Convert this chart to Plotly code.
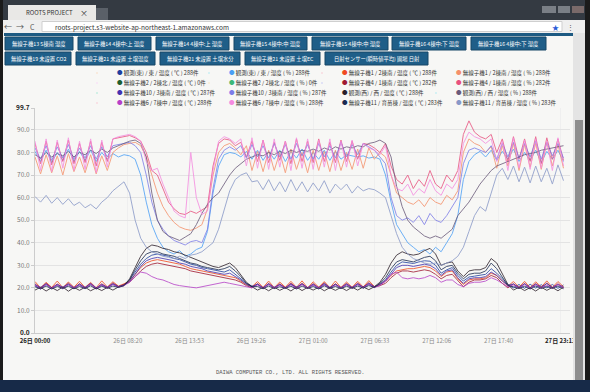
import pandas as pd
import plotly.graph_objects as go

# ---------------- data ----------------
times = pd.date_range("2017-06-26 00:00", periods=96, freq="30min")

series_names = [
    "観測(東) / 東 / 温度 ( ℃ ) 288件",
    "観測(東) / 東 / 湿度 ( % ) 288件",
    "無線子機1 / 2棟南 / 温度 ( ℃ ) 288件",
    "無線子機1 / 2棟南 / 湿度 ( % ) 288件",
    "無線子機2 / 2棟北 / 温度 ( ℃ ) 0件",
    "無線子機2 / 2棟北 / 湿度 ( % ) 0件",
    "無線子機4 / 1棟南 / 温度 ( ℃ ) 282件",
    "無線子機4 / 1棟南 / 湿度 ( % ) 282件",
    "無線子機10 / 3棟南 / 温度 ( ℃ ) 287件",
    "無線子機10 / 3棟南 / 湿度 ( % ) 287件",
    "観測(西) / 西 / 温度 ( ℃ ) 288件",
    "観測(西) / 西 / 湿度 ( % ) 288件",
    "無線子機6 / 7棟中 / 温度 ( ℃ ) 288件",
    "無線子機6 / 7棟中 / 湿度 ( % ) 288件",
    "無線子機11 / 育苗棟 / 温度 ( ℃ ) 283件",
    "無線子機11 / 育苗棟 / 湿度 ( % ) 283件",
]
series_colors = [
    "#1f3f9f", "#4a9ff5", "#f04a20", "#f5906a",
    "#1e5e2e", "#3cb878", "#a01830", "#e8507e",
    "#4432b0", "#7c7ce8", "#2a1e28", "#6a5a7a",
    "#b640c8", "#f58ae0", "#1a2a50", "#8898c8",
]

t_east = [21.0, 19.5, 21.5, 19.8, 21.2, 19.6, 21.4, 19.9,
          21.3, 19.7, 21.5, 19.8, 21.2, 20.0, 21.6, 20.4,
          21.5, 23.5, 27.0, 30.5, 33.0, 34.5, 35.0, 34.5,
          34.0, 33.0, 32.5, 31.5, 30.5, 30.0, 29.0, 28.5,
          28.0, 27.5, 27.0, 28.0, 26.0, 24.0, 22.0, 20.8,
          21.5, 19.8, 21.6, 19.9, 21.4, 20.0, 21.5, 19.8,
          21.6, 19.9, 21.3, 19.7, 21.5, 20.0, 21.6, 19.8,
          21.4, 20.0, 21.5, 19.9, 21.6, 20.1, 22.0, 23.5,
          27.0, 30.0, 31.5, 31.0, 30.8, 31.5, 32.0, 31.8,
          30.0, 26.5, 28.0, 29.0, 25.5, 23.0, 24.8, 25.2,
          25.5, 26.0, 28.5, 26.5, 24.0, 21.5, 20.0, 21.5,
          19.8, 21.6, 19.9, 21.4, 20.0, 21.5, 19.8, 21.3]
h_east = [80.5, 76.0, 81.0, 75.5, 80.0, 76.5, 81.5, 76.0,
          80.5, 76.5, 81.0, 76.0, 80.0, 77.0, 79.5, 78.0,
          79.0, 78.5, 77.0, 70.0, 58.0, 48.0, 42.0, 38.0,
          36.0, 35.0, 36.5, 34.0, 35.0, 37.0, 38.0, 45.0,
          62.0, 74.0, 79.0, 80.0, 79.5, 78.0, 80.5, 77.0,
          81.0, 76.5, 80.5, 77.0, 81.0, 76.0, 80.5, 77.5,
          81.5, 76.5, 80.0, 77.0, 81.0, 76.5, 80.5, 77.0,
          79.0, 78.5, 78.0, 78.5, 77.5, 78.0, 77.0, 70.0,
          58.0, 48.0, 44.0, 40.0, 38.0, 36.0, 37.0, 35.0,
          38.0, 36.0, 40.0, 44.0, 52.0, 68.0, 76.0, 79.0,
          80.5, 78.0, 81.0, 76.5, 80.5, 77.0, 81.5, 76.0,
          80.0, 76.5, 81.0, 75.5, 80.5, 77.0, 81.0, 76.0]
t_r1 = [22.8, 20.0, 22.5, 20.2, 23.0, 20.1, 22.6, 20.3,
        22.9, 20.2, 22.4, 20.0, 23.1, 20.4, 22.7, 20.8,
        21.8, 23.0, 26.0, 29.0, 31.0, 32.0, 32.5, 32.0,
        31.5, 31.0, 30.5, 29.5, 28.5, 28.0, 27.5, 27.0,
        26.5, 26.0, 25.5, 25.0, 24.5, 23.0, 21.5, 20.5,
        22.8, 20.2, 23.0, 20.1, 22.6, 20.3, 22.9, 20.2,
        23.1, 20.0, 22.7, 20.3, 22.8, 20.1, 23.0, 20.2,
        22.6, 20.3, 22.9, 20.4, 23.2, 20.6, 21.5, 23.0,
        25.5, 27.5, 28.0, 28.5, 28.5, 29.0, 29.5, 29.0,
        27.5, 25.0, 27.0, 27.5, 24.0, 21.5, 23.5, 24.0,
        24.0, 24.5, 26.5, 25.5, 23.0, 20.8, 22.8, 20.3,
        22.9, 20.1, 22.7, 20.4, 23.1, 20.2, 22.8, 20.5]
h_r1 = [78.0, 70.5, 79.0, 71.0, 78.5, 70.0, 79.5, 71.5,
        78.0, 71.0, 79.0, 70.5, 78.5, 72.0, 80.0, 82.0,
        83.5, 84.0, 84.5, 83.0, 78.0, 70.0, 62.0, 56.0,
        52.0, 49.0, 47.0, 46.0, 45.5, 46.5, 48.0, 55.0,
        70.0, 80.0, 83.0, 84.0, 82.0, 79.0, 83.0, 72.0,
        80.5, 71.5, 81.0, 72.0, 80.0, 71.0, 81.5, 72.5,
        80.0, 71.0, 81.0, 72.0, 80.5, 71.5, 81.0, 72.0,
        80.0, 72.5, 81.5, 73.0, 82.0, 77.0, 80.0, 78.0,
        70.0, 62.0, 60.0, 58.0, 57.0, 59.0, 56.0, 60.0,
        58.0, 57.0, 61.0, 59.0, 63.0, 80.0, 86.0, 84.0,
        83.0, 80.0, 82.5, 73.0, 83.0, 74.0, 84.0, 72.0,
        83.5, 73.5, 84.0, 72.5, 84.5, 74.0, 83.5, 73.0]
t_r2 = []
h_r2 = []
t_r4 = [21.8, 19.8, 22.0, 19.9, 21.7, 20.0, 22.1, 19.8,
        21.9, 20.0, 22.0, 19.7, 21.8, 20.1, 22.2, 20.5,
        21.5, 22.5, 25.0, 27.5, 29.5, 30.5, 31.0, 30.5,
        30.0, 29.5, 29.0, 28.5, 27.5, 27.0, 26.5, 26.0,
        25.5, 25.0, 24.5, 24.0, 23.5, 22.5, 21.0, 20.0,
        21.9, 19.9, 22.0, 19.8, 21.8, 20.0, 22.1, 19.9,
        22.0, 19.8, 21.9, 20.0, 22.2, 19.9, 21.8, 20.0,
        22.0, 19.9, 22.1, 20.2, 22.3, 20.4, 21.0, 22.0,
        24.5, 26.5, 27.5, 27.5, 27.0, 27.5, 28.0, 27.5,
        26.0, 24.0, 25.5, 26.0, 23.0, 20.5, 22.5, 23.5,
        23.5, 24.0, 25.5, 24.5, 22.0, 20.0, 21.8, 19.9,
        22.0, 19.8, 21.9, 20.0, 22.1, 19.9, 21.8, 20.1]
h_r4 = [84.0, 75.0, 85.0, 74.5, 84.5, 76.0, 85.5, 75.0,
        84.0, 75.5, 85.0, 74.0, 84.5, 76.0, 86.0, 86.5,
        87.0, 87.5, 86.5, 85.0, 80.0, 72.0, 70.0, 64.0,
        58.0, 55.0, 53.0, 52.5, 54.0, 53.0, 54.5, 56.0,
        74.0, 84.0, 86.0, 85.5, 83.0, 84.5, 78.0, 85.0,
        76.0, 85.5, 75.5, 84.5, 76.5, 85.0, 75.0, 86.0,
        76.0, 85.0, 75.5, 86.0, 76.0, 84.5, 75.5, 85.5,
        76.0, 85.0, 77.0, 84.0, 83.5, 82.0, 80.0, 84.0,
        74.0, 68.0, 66.0, 70.0, 64.0, 68.0, 65.0, 72.0,
        66.0, 64.0, 70.0, 67.0, 72.0, 88.0, 94.0, 89.0,
        87.0, 86.0, 88.0, 80.0, 86.0, 76.0, 87.0, 77.0,
        86.0, 76.0, 87.0, 75.0, 86.5, 77.0, 86.0, 76.5]
t_r10 = [21.4, 20.2, 21.8, 20.0, 21.5, 20.3, 21.7, 20.1,
         21.6, 20.2, 21.9, 20.0, 21.5, 20.3, 21.8, 20.6,
         21.2, 22.8, 26.0, 29.5, 32.0, 33.0, 33.5, 33.0,
         32.5, 32.0, 31.0, 30.5, 29.5, 29.0, 28.5, 27.5,
         27.0, 26.5, 26.0, 26.5, 25.0, 23.5, 21.5, 20.5,
         21.6, 20.1, 21.8, 20.2, 21.5, 20.0, 21.7, 20.3,
         21.8, 20.1, 21.6, 20.0, 21.9, 20.2, 21.5, 20.1,
         21.7, 20.2, 21.8, 20.3, 22.0, 20.5, 21.5, 23.0,
         26.0, 29.0, 30.0, 30.0, 29.5, 30.0, 30.5, 30.0,
         28.5, 25.5, 27.5, 28.0, 24.5, 22.0, 24.0, 24.5,
         24.5, 25.0, 27.0, 25.5, 23.0, 21.2, 21.7, 20.2,
         21.8, 20.0, 21.6, 20.3, 21.9, 20.1, 21.5, 20.2]
h_r10 = [82.0, 77.0, 83.0, 76.5, 82.5, 77.5, 83.5, 77.0,
         82.0, 77.5, 83.0, 77.0, 82.5, 78.0, 83.0, 83.5,
         84.0, 84.5, 83.0, 80.0, 70.0, 58.0, 50.0, 46.0,
         43.0, 41.0, 40.0, 39.0, 40.5, 41.0, 40.0, 46.0,
         64.0, 77.0, 81.0, 82.5, 81.0, 83.0, 77.5, 83.5,
         78.0, 83.0, 77.5, 84.0, 78.0, 83.5, 77.0, 84.0,
         78.5, 83.5, 77.0, 84.0, 78.0, 83.0, 77.5, 84.5,
         78.0, 83.5, 79.0, 84.0, 82.5, 81.0, 78.0, 75.0,
         60.0, 52.0, 50.0, 51.0, 49.0, 52.0, 48.0, 53.0,
         50.0, 49.0, 52.0, 56.0, 60.0, 75.0, 81.0, 82.0,
         81.0, 80.0, 83.0, 77.0, 84.0, 78.0, 84.5, 77.5,
         84.0, 78.0, 85.0, 77.0, 84.5, 78.5, 84.0, 77.5]
t_west = [19.0, 20.3, 18.6, 20.1, 18.8, 20.4, 18.5, 20.2,
          18.9, 20.3, 18.7, 20.0, 18.8, 20.2, 19.0, 20.4,
          21.0, 24.0, 29.0, 34.0, 37.5, 39.0, 38.5, 37.5,
          37.0, 36.0, 35.5, 34.5, 33.5, 32.5, 31.5, 30.5,
          29.5, 29.0, 30.0, 31.0, 29.0, 25.5, 22.5, 20.5,
          19.0, 20.2, 18.7, 20.3, 18.9, 20.1, 18.6, 20.4,
          18.8, 20.2, 19.0, 20.3, 18.7, 20.1, 18.9, 20.2,
          18.8, 20.3, 19.0, 20.4, 19.2, 20.5, 22.5, 26.0,
          31.0, 34.5, 36.0, 35.0, 34.5, 35.0, 36.5, 37.5,
          35.0, 30.0, 31.0, 31.5, 27.5, 25.0, 27.5, 28.0,
          28.0, 29.0, 33.0, 31.0, 26.0, 21.5, 19.0, 20.3,
          18.8, 20.1, 18.6, 20.3, 18.9, 20.2, 18.7, 20.4]
h_west = [79.0, 77.5, 80.0, 78.0, 79.5, 78.5, 80.5, 78.0,
          80.0, 79.0, 81.0, 79.5, 81.5, 80.0, 82.0, 83.0,
          84.0, 85.0, 85.5, 84.0, 78.0, 62.0, 50.0, 45.0,
          43.0, 42.0, 41.0, 42.5, 44.0, 48.0, 53.0, 57.0,
          60.0, 62.0, 66.0, 70.0, 73.0, 75.0, 77.0, 78.0,
          79.0, 78.5, 80.0, 79.0, 80.5, 79.5, 81.0, 80.0,
          81.0, 80.5, 81.5, 80.5, 82.0, 81.0, 82.5, 81.5,
          82.5, 82.0, 83.0, 82.5, 84.0, 84.5, 85.5, 84.0,
          78.0, 65.0, 56.0, 50.0, 47.0, 45.0, 43.0, 42.0,
          43.0, 42.0, 44.0, 46.0, 52.0, 55.0, 58.0, 62.0,
          66.0, 69.0, 72.0, 74.0, 75.0, 76.0, 77.0, 78.0,
          79.0, 79.5, 80.0, 81.0, 81.5, 82.0, 82.5, 83.0]
t_r6 = [21.2, 19.6, 21.5, 19.8, 21.3, 19.7, 21.4, 19.9,
        21.2, 19.8, 21.6, 19.7, 21.3, 19.9, 21.5, 20.3,
        21.0, 22.5, 25.0, 27.0, 26.5, 25.0, 24.0, 23.5,
        22.5, 21.5, 21.0, 20.5, 20.3, 20.0, 20.5, 21.0,
        21.5, 22.0, 22.5, 22.0, 21.5, 21.0, 20.5, 20.0,
        21.3, 19.7, 21.5, 19.9, 21.2, 19.8, 21.4, 19.7,
        21.5, 19.8, 21.3, 19.9, 21.4, 19.7, 21.2, 19.9,
        21.4, 19.8, 21.5, 20.0, 21.6, 20.2, 21.0, 23.0,
        26.0, 27.0, 24.5, 24.0, 24.5, 24.0, 24.5, 25.5,
        24.5, 22.5, 23.5, 23.5, 21.5, 20.5, 22.0, 22.5,
        22.5, 23.0, 24.5, 23.5, 22.0, 20.5, 21.3, 19.8,
        21.5, 19.7, 21.4, 19.9, 21.2, 19.8, 21.5, 20.0]
h_r6 = [85.0, 72.0, 86.0, 71.5, 85.5, 73.0, 86.5, 72.0,
        85.0, 72.5, 86.0, 71.0, 85.5, 73.5, 86.0, 87.0,
        87.5, 88.0, 87.0, 85.0, 76.0, 72.0, 73.0, 66.0,
        60.0, 54.0, 52.0, 51.0, 80.0, 60.0, 52.5, 54.0,
        72.0, 85.0, 87.0, 86.0, 84.0, 86.0, 74.0, 86.5,
        73.0, 85.5, 72.5, 86.0, 73.5, 85.0, 72.0, 86.5,
        73.0, 86.0, 72.5, 85.5, 73.5, 86.0, 72.0, 85.0,
        73.5, 85.5, 74.0, 84.0, 82.0, 81.0, 79.0, 83.0,
        70.0, 64.0, 63.0, 66.0, 61.0, 64.0, 62.0, 68.0,
        63.0, 61.0, 66.0, 64.0, 68.0, 84.0, 89.0, 87.0,
        86.0, 84.0, 86.0, 76.0, 85.0, 72.0, 86.5, 73.0,
        85.5, 72.5, 86.0, 73.0, 85.0, 72.0, 86.5, 74.0]
t_r11 = [20.5, 19.6, 20.8, 19.5, 20.6, 19.8, 20.7, 19.6,
         20.6, 19.7, 20.9, 19.5, 20.7, 19.8, 20.8, 20.2,
         21.0, 23.5, 28.0, 32.0, 35.0, 36.0, 36.0, 35.0,
         34.5, 34.0, 33.0, 32.0, 31.0, 30.5, 29.5, 29.0,
         28.5, 28.0, 28.5, 29.5, 27.5, 25.0, 22.0, 20.5,
         20.6, 19.6, 20.8, 19.7, 20.5, 19.8, 20.7, 19.5,
         20.8, 19.7, 20.6, 19.5, 20.9, 19.8, 20.6, 19.7,
         20.7, 19.8, 20.8, 19.9, 21.0, 20.2, 22.0, 24.5,
         28.5, 31.5, 32.5, 32.0, 31.5, 32.5, 33.5, 34.0,
         32.0, 28.0, 29.5, 30.0, 26.5, 24.0, 26.0, 26.5,
         26.5, 27.5, 31.0, 28.5, 25.0, 21.0, 20.5, 19.7,
         20.7, 19.5, 20.8, 19.7, 20.6, 19.8, 20.8, 19.6]
h_r11 = [60.5, 58.0, 61.0, 57.5, 60.0, 57.0, 59.5, 56.5,
         58.0, 55.5, 57.0, 55.0, 58.0, 60.0, 63.0, 65.0,
         67.0, 62.0, 50.0, 42.0, 38.0, 36.0, 35.0, 34.0,
         33.5, 33.0, 34.0, 33.0, 34.5, 35.0, 36.0, 38.0,
         40.0, 46.0, 55.0, 63.0, 68.0, 70.0, 71.0, 67.0,
         67.5, 63.5, 68.0, 63.0, 67.0, 62.5, 68.0, 63.0,
         67.0, 62.5, 66.5, 63.0, 67.5, 62.0, 66.0, 63.5,
         66.0, 62.0, 65.0, 63.0, 64.0, 63.5, 62.0, 60.0,
         52.0, 44.0, 38.0, 35.0, 33.0, 32.0, 31.0, 30.5,
         31.0, 30.0, 31.0, 32.0, 34.0, 38.0, 45.0, 52.0,
         56.0, 54.0, 62.0, 70.0, 73.0, 68.0, 74.0, 67.0,
         73.5, 66.5, 74.0, 67.0, 73.0, 66.0, 74.5, 67.5]

series_values = [t_east, h_east, t_r1, h_r1, t_r2, h_r2, t_r4, h_r4,
                 t_r10, h_r10, t_west, h_west, t_r6, h_r6, t_r11, h_r11]

y_tickvals = [0, 10, 20, 30, 40, 50, 60, 70, 80, 90, 99.7]
y_ticktext = ['<b><span style="color:#222">0.0</span></b>', "10.0", "20.0", "30.0",
              "40.0", "50.0", "60.0", "70.0", "80.0", "90.0",
              '<b><span style="color:#222">99.7</span></b>']
x_tickvals = ["2017-06-26 00:00", "2017-06-26 08:20", "2017-06-26 13:53",
              "2017-06-26 19:26", "2017-06-27 01:00", "2017-06-27 06:33",
              "2017-06-27 12:06", "2017-06-27 17:40", "2017-06-27 23:13"]
x_ticktext = ['<b><span style="color:#222">26日 00:00</span></b>', "26日 08:20",
              "26日 13:53", "26日 19:26", "27日 01:00", "27日 06:33",
              "27日 12:06", "27日 17:40",
              '<b><span style="color:#222">27日 23:13</span></b>']

button_row1 = ["無線子機13 5棟南 湿度", "無線子機14 4棟中:上 温度",
               "無線子機14 4棟中:上 湿度", "無線子機15 4棟中:中 温度",
               "無線子機15 4棟中:中 湿度", "無線子機16 4棟中:下 温度",
               "無線子機16 4棟中:下 湿度"]
button_row2 = ["無線子機19 未設置 CO2", "無線子機21 未設置 土壌温度",
               "無線子機21 未設置 土壌水分", "無線子機21 未設置 土壌EC",
               "日射センサー(瞬時値平均) 圃場 日射"]
page_url = "roots-project.s3-website-ap-northeast-1.amazonaws.com"
tab_title = "ROOTS PROJECT"
footer_text = "DAIWA COMPUTER CO., LTD. ALL RIGHTS RESERVED."

# ---------------- layout geometry (pixels) ----------------
W, H = 590, 392
ML, MR, MT, MB = 35, 20, 108, 59
PW, PH = W - ML - MR, H - MT - MB
row1_geom = [(5, 73), (78, 151), (156, 229), (234, 307), (312, 388), (392, 466), (471, 546)]
row2_geom = [(5, 71), (76, 155), (160, 240), (245, 320), (325, 428)]
legend_cols_x = [118, 230, 343, 457]
legend_rows_y = [73, 83, 93, 103]


def px(x):
    return (x - ML) / PW


def py(y):
    return (H - MB - y) / PH


FONT = "Noto Sans CJK JP, Noto Sans, sans-serif"

fig = go.Figure()

# data lines
for name, color, vals in zip(series_names, series_colors, series_values):
    if len(vals) == 0:
        continue
    fig.add_trace(go.Scatter(
        x=times[:len(vals)], y=vals, mode="lines", name=name,
        line=dict(color=color, width=1.0), opacity=0.8,
        legendgroup=name, showlegend=False,
        hovertemplate="%{x}<br>%{y}<extra>" + name + "</extra>"))

# legend entries: one small legend per entry, arranged 4 x 4
layout_legends = {}
for k, (name, color) in enumerate(zip(series_names, series_colors)):
    key = "legend" if k == 0 else f"legend{k + 1}"
    fig.add_trace(go.Scatter(
        x=[None], y=[None], mode="markers",
        marker=dict(size=1, opacity=0),
        name=f'<span style="color:{color}">●</span> {name}',
        legendgroup=name, showlegend=True, legend=key))
    col, row = k % 4, k // 4
    layout_legends[key] = dict(
        orientation="h", x=px(legend_cols_x[col] - 41), xanchor="left",
        y=py(legend_rows_y[row]), yanchor="middle", itemwidth=30,
        font=dict(size=5.5, color="#333", family=FONT),
        bgcolor="rgba(0,0,0,0)", borderwidth=0)

shapes = []
annotations = []


def rect(x0, y0, x1, y1, color, line=None):
    shapes.append(dict(type="rect", xref="paper", yref="paper",
                       x0=px(x0), x1=px(x1), y0=py(y1), y1=py(y0),
                       fillcolor=color, line=dict(width=0) if line is None else line,
                       layer="above"))


def text(x, y, s, size=6, color="#333", xanchor="center", family=FONT):
    annotations.append(dict(xref="paper", yref="paper", x=px(x), y=py(y),
                            text=s, showarrow=False, xanchor=xanchor,
                            yanchor="middle", font=dict(size=size, color=color, family=family)))


# browser chrome
rect(0, 0, 590, 20, "#343a42")
rect(8, 5, 96, 20, "#e9e8e6")
rect(96, 8, 108, 20, "#5a6068")
text(24, 12.5, tab_title, size=6, color="#333", xanchor="left")
text(84, 12.5, "×", size=8, color="#333")
rect(542, 6, 556, 13, "#7a7f86")
rect(558, 6, 570, 13, "#7a7f86")
rect(572, 6, 584, 13, "#7a6a6a")
rect(0, 20, 590, 33, "#efefef")
rect(42, 21.5, 562, 31.5, "#ffffff", line=dict(color="#cfcfcf", width=1))
text(8, 26.5, "←", size=8, color="#555")
text(20, 26.5, "→", size=8, color="#555")
text(32, 26.5, "C", size=7, color="#555")
text(53, 26.5, page_url, size=6.5, color="#333", xanchor="left")
text(555, 26.5, "★", size=7, color="#2a5bd7")
text(570, 26.5, "⋮", size=7, color="#555")
rect(4, 33, 586, 36, "#1d5a82")

for lab, (x0, x1) in zip(button_row1, row1_geom):
    rect(x0, 37, x1, 50, "#1f5e88", line=dict(color="#164766", width=1))
    text((x0 + x1) / 2, 43.5, lab, size=5.3, color="#ffffff")
for lab, (x0, x1) in zip(button_row2, row2_geom):
    rect(x0, 52, x1, 65, "#1f5e88", line=dict(color="#164766", width=1))
    text((x0 + x1) / 2, 58.5, lab, size=5.3, color="#ffffff")

# scrollbar & bezels
rect(573, 33, 585, 380, "#e4e4e4")
rect(575, 120, 583, 380, "#8e8e8e")
rect(585, 0, 590, 392, "#1b1b1b")
rect(0, 0, 3, 392, "#1b1b1b")
rect(0, 380, 590, 392, "#172a48")

text(290, 372, footer_text, size=5.5, color="#555", family="Liberation Mono, monospace")

fig.update_layout(
    width=W, height=H,
    margin=dict(l=ML, r=MR, t=MT, b=MB, pad=0),
    paper_bgcolor="#f7f7f5", plot_bgcolor="#f7f7f5",
    font=dict(family=FONT, size=7, color="#666"),
    showlegend=True,
    shapes=shapes, annotations=annotations,
    xaxis=dict(type="date", range=["2017-06-26 00:00", "2017-06-28 00:05"],
               tickvals=x_tickvals, ticktext=x_ticktext,
               tickfont=dict(size=6, color="#8a8a8a"),
               showgrid=True, gridcolor="#efefef", gridwidth=1,
               showline=True, linecolor="#cccccc", zeroline=False,
               ticks="", ticklabelstandoff=2, fixedrange=True),
    yaxis=dict(range=[0, 99.7], tickvals=y_tickvals, ticktext=y_ticktext,
               tickfont=dict(size=6.5, color="#777777"),
               showgrid=True, gridcolor="#e3e3e3", gridwidth=1,
               showline=True, linecolor="#cccccc", zeroline=False,
               ticks="outside", ticklen=3, tickcolor="#cccccc", fixedrange=True),
    **layout_legends,
)

fig.write_html(
    "out.html",
    config={"displayModeBar": False},
    post_script="document.body.style.margin='0';document.body.style.overflow='hidden';",
)
